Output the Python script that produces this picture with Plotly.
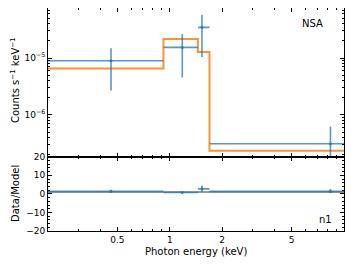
import plotly.graph_objects as go
import numpy as np

# ---- data ----
bin_edges = [0.2, 0.92, 1.45, 1.69, 10.0]          # keV
data_energy = [0.46, 1.18, 1.53, 8.36]             # keV
data_rate = [8.96e-6, 1.54e-5, 3.47e-5, 3.12e-7]   # counts s^-1 keV^-1
data_err_up = [6.0e-6, 1.11e-5, 2.33e-5, 3.1e-7]
data_err_down = [6.28e-6, 1.085e-5, 2.43e-5, 2.12e-7]
model_rate = [6.56e-6, 2.16e-5, 1.28e-5, 2.34e-7]

x_tick_vals = [0.5, 1, 2, 5]
x_tick_text = ["0.5", "1", "2", "5"]
y_tick_vals = [1e-6, 1e-5]
y_tick_text = ["10<sup>\u22126</sup>", "10<sup>\u22125</sup>"]
r_tick_vals = [-20, -10, 0, 10, 20]

# ---- derived ----
lo = bin_edges[:-1]
hi = bin_edges[1:]
xerr_minus = [x - l for x, l in zip(data_energy, lo)]
xerr_plus = [h - x for x, h in zip(data_energy, hi)]
ratio = [d / m for d, m in zip(data_rate, model_rate)]
ratio_up = [e / m for e, m in zip(data_err_up, model_rate)]
ratio_down = [e / m for e, m in zip(data_err_down, model_rate)]

BLUE = "rgba(31,119,180,0.75)"
ORANGE = "rgba(255,127,14,0.85)"
FONT = "DejaVu Sans"

fig = go.Figure()

fig.add_trace(go.Scatter(
    x=bin_edges, y=model_rate + [model_rate[-1]], mode="lines",
    line=dict(shape="hv", color=ORANGE, width=2), xaxis="x", yaxis="y",
    showlegend=False, hoverinfo="skip"))

fig.add_trace(go.Scatter(
    x=data_energy, y=data_rate, mode="markers",
    marker=dict(size=3, color=BLUE),
    error_x=dict(type="data", symmetric=False, array=xerr_plus, arrayminus=xerr_minus,
                 color=BLUE, thickness=1.6, width=0),
    error_y=dict(type="data", symmetric=False, array=data_err_up, arrayminus=data_err_down,
                 color=BLUE, thickness=1.6, width=0),
    xaxis="x", yaxis="y", showlegend=False))

fig.add_trace(go.Scatter(
    x=[bin_edges[0], bin_edges[-1]], y=[1, 1], mode="lines",
    line=dict(color="rgba(90,90,90,0.8)", width=1.5), xaxis="x2", yaxis="y2",
    showlegend=False, hoverinfo="skip"))

fig.add_trace(go.Scatter(
    x=data_energy, y=ratio, mode="markers",
    marker=dict(size=3, color=BLUE),
    error_x=dict(type="data", symmetric=False, array=xerr_plus, arrayminus=xerr_minus,
                 color=BLUE, thickness=1.6, width=0),
    error_y=dict(type="data", symmetric=False, array=ratio_up, arrayminus=ratio_down,
                 color=BLUE, thickness=1.6, width=0),
    xaxis="x2", yaxis="y2", showlegend=False))

x_minor = [0.2, 0.3, 0.4, 0.6, 0.7, 0.8, 0.9, 3, 4, 6, 7, 8, 9]
y_minor = [m * 10.0 ** p for p in (-7, -6, -5) for m in range(2, 10)]

common_ax = dict(showline=True, linecolor="black", linewidth=1, mirror="ticks",
                 ticks="inside", ticklen=4, tickcolor="black", tickwidth=1,
                 showgrid=False, zeroline=False, automargin=False,
                 tickfont=dict(family=FONT, size=9, color="black"))

split = 0.333
ann_font = dict(family=FONT, size=10, color="black")
fig.update_layout(
    template="none",
    width=353, height=265,
    margin=dict(l=40, r=17, t=0, b=42, pad=0),
    paper_bgcolor="white", plot_bgcolor="white",
    font=dict(family=FONT, size=10, color="black"),
    xaxis=dict(type="log", range=[np.log10(0.2), np.log10(10)], anchor="y",
               domain=[0, 1], tickvals=x_tick_vals, showticklabels=False,
               minor=dict(tickvals=x_minor, ticks="inside", ticklen=2, tickcolor="black"),
               **common_ax),
    yaxis=dict(type="log", range=[np.log10(1.84e-7), np.log10(7.6e-5)], anchor="x",
               domain=[split, 1], tickvals=y_tick_vals, ticktext=y_tick_text,
               minor=dict(tickvals=y_minor, ticks="inside", ticklen=2, tickcolor="black"),
               **common_ax),
    xaxis2=dict(type="log", range=[np.log10(0.2), np.log10(10)], anchor="y2",
                domain=[0, 1], tickvals=x_tick_vals, ticktext=x_tick_text,
                minor=dict(tickvals=x_minor, ticks="inside", ticklen=2, tickcolor="black"),
                **common_ax),
    yaxis2=dict(range=[-20, 20], anchor="x2", domain=[0, split],
                tickvals=r_tick_vals,
                minor=dict(dtick=2, ticks="inside", ticklen=2, tickcolor="black"),
                **common_ax),
    annotations=[
        dict(text="NSA", x=(312 - 48) / 296, y=(231 - 23.5) / 223, xref="paper", yref="paper",
             xanchor="center", yanchor="middle", showarrow=False, font=ann_font),
        dict(text="n1", x=(325 - 48) / 296, y=(231 - 219) / 223, xref="paper", yref="paper",
             xanchor="center", yanchor="middle", showarrow=False, font=ann_font),
        dict(text="Counts s<sup>\u22121</sup> keV<sup>\u22121</sup>", x=(15 - 48) / 296,
             y=(231 - 80) / 223, xref="paper", yref="paper", textangle=-90,
             xanchor="center", yanchor="middle", showarrow=False, font=ann_font),
        dict(text="Data/Model", x=(15 - 48) / 296, y=(231 - 194) / 223, xref="paper",
             yref="paper", textangle=-90, xanchor="center", yanchor="middle",
             showarrow=False, font=ann_font),
        dict(text="Photon energy (keV)", x=(196 - 48) / 296, y=(231 - 251) / 223,
             xref="paper", yref="paper", showarrow=False, xanchor="center",
             yanchor="middle", font=ann_font),
    ],
)

fig.write_html("out.html")
